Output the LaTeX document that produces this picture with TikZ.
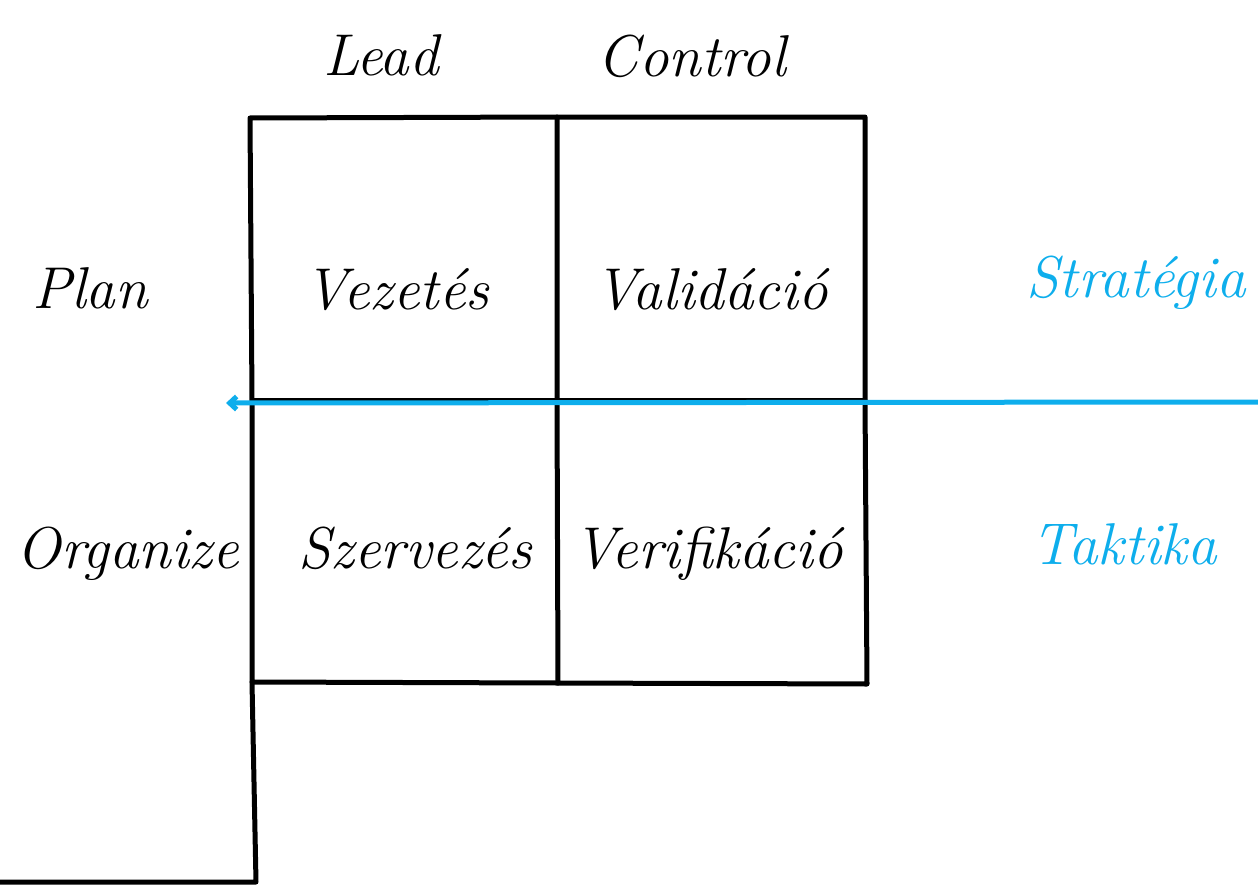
\documentclass[tikz,border=0pt]{standalone}
\usepackage{tikz}
\usetikzlibrary{arrows.meta}
\definecolor{skyblue}{RGB}{14,174,236}

\begin{document}
\begin{tikzpicture}[x=1pt, y=-1pt, line cap=round, line join=round,
  hand/.style={font=\fontsize{59}{64}\selectfont\itshape, anchor=base, inner sep=0pt},
  blue hand/.style={hand, text=skyblue},
  grid line/.style={draw=black, line width=5pt},
  blue line/.style={draw=skyblue, line width=5pt}]
\useasboundingbox (0,0) rectangle (1258,891);
% corners of the grid
\coordinate (tl) at (250,118);
\coordinate (tm) at (557,117);
\coordinate (tr) at (865,117);
\coordinate (ml) at (252,400);
\coordinate (mm) at (557,400);
\coordinate (mr) at (865,400);
\coordinate (bl) at (252,682);
\coordinate (bm) at (558,683);
\coordinate (br) at (867,684);
\coordinate (foot) at (256,882);
\coordinate (floor) at (0,882);
\coordinate (start) at (1258,402);
\coordinate (tip) at (226,403);
% column and row heads
\node[hand] (lead) at (381,75) {Lead};
\node[hand] (control) at (692,77) {Control};
\node[hand] (plan) at (90,308) {Plan};
\node[hand] (organize) at (128,568) {Organize};
% cells
\node[hand] (vezetes) at (397,309) {Vezetés};
\node[hand] (validacio) at (711,309) {Validáció};
\node[hand] (szervezes) at (415,568) {Szervezés};
\node[hand] (verifikacio) at (708,568) {Verifikáció};
% right side
\node[blue hand] (strategia) at (1136,297) {Stratégia};
\node[blue hand] (taktika) at (1124,564) {Taktika};
% grid
\draw[grid line] (tl) -- (tm) -- (tr) -- (mr) -- (br) -- (bm) -- (bl) -- (ml) -- cycle;
\draw[grid line] (tm) -- (mm) -- (bm);
\draw[grid line] (ml) -- (mm) -- (mr);
\draw[grid line] (bl) -- (foot) -- (floor);
\draw[blue line, -{Straight Barb[length=7pt, width=13pt]}] (start) -- (tip);
\end{tikzpicture}
\end{document}
